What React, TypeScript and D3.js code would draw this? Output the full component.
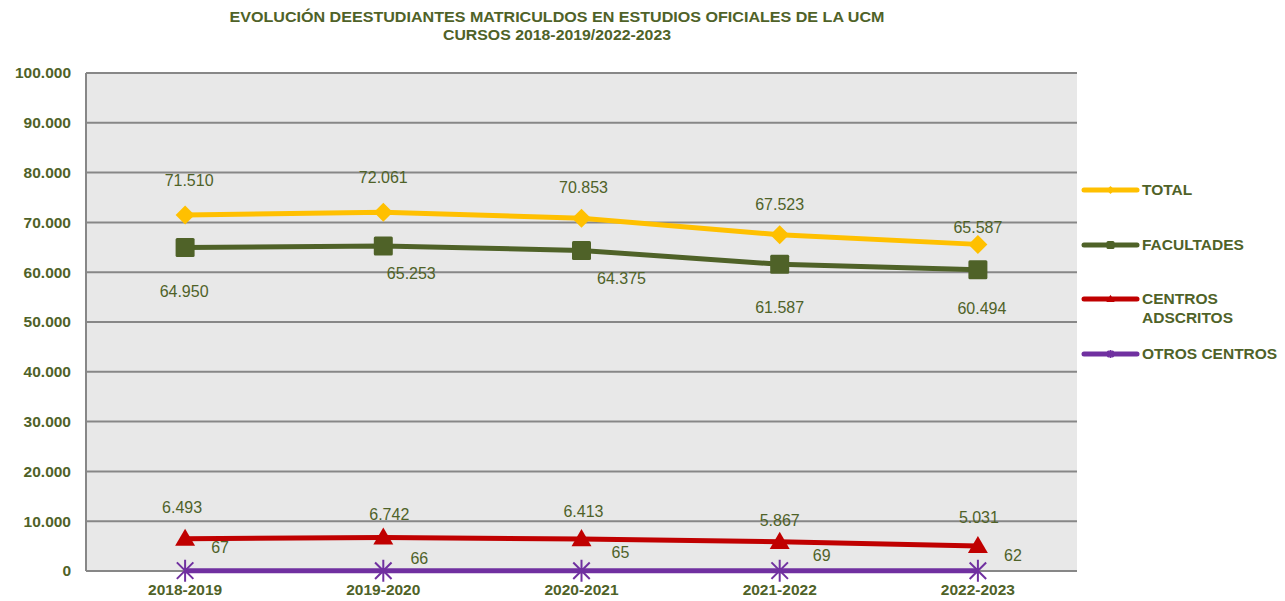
import React, { useEffect, useRef } from "react";
import * as d3 from "d3";

// cursos
const cursos = ["2018-2019", "2019-2020", "2020-2021", "2021-2022", "2022-2023"];

// valores por serie
const total = [71510, 72061, 70853, 67523, 65587];
const facultades = [64950, 65253, 64375, 61587, 60494];
const centrosAdscritos = [6493, 6742, 6413, 5867, 5031];
const otrosCentros = [67, 66, 65, 69, 62];

const yTicks = [0, 10000, 20000, 30000, 40000, 50000, 60000, 70000, 80000, 90000, 100000];

// desplazamiento de las etiquetas (como en la hoja original)
const offTotal = [[4, -34], [0, -35], [2, -31], [0, -30], [0, -17]];
const offFac = [[-1, 44], [28, 27], [40, 28], [0, 43], [4, 39]];
const offCen = [[-3, -31], [6, -23], [2, -28], [0, -21], [1, -29]];
const offOtros = [[35, -23], [36, -12], [39, -18], [42, -15], [35, -15]];

const OLIVE = "#4F6228";

const fmt = (v: number) => {
  const s = String(v);
  return s.length > 3 ? s.slice(0, -3) + "." + s.slice(-3) : s;
};

const App = () => {
  const svgRef = useRef<SVGSVGElement>(null);

  useEffect(() => {
    const svg = d3.select(svgRef.current);
    svg.selectAll("*").remove();

    const left = 86;
    const right = 1077;
    const top = 73;
    const bottom = 571;

    const x = d3.scaleBand().domain(cursos).range([left, right]);
    const y = d3.scaleLinear().domain([0, 100000]).range([bottom, top]);
    const cx = (c: string) => (x(c) as number) + x.bandwidth() / 2;

    const font = "'Liberation Sans', Arial, sans-serif";

    // fondo del área de trazado
    svg
      .append("rect")
      .attr("x", left)
      .attr("y", top)
      .attr("width", right - left)
      .attr("height", bottom - top)
      .attr("fill", "#E8E8E8");

    // líneas de la cuadrícula
    svg
      .selectAll("line.grid")
      .data(yTicks)
      .enter()
      .append("line")
      .attr("x1", left)
      .attr("x2", right)
      .attr("y1", (d) => y(d))
      .attr("y2", (d) => y(d))
      .attr("stroke", "#878787")
      .attr("stroke-width", 2);

    svg
      .append("line")
      .attr("x1", left)
      .attr("x2", left)
      .attr("y1", top)
      .attr("y2", bottom)
      .attr("stroke", "#878787")
      .attr("stroke-width", 2);

    // etiquetas eje y
    svg
      .selectAll("text.ytick")
      .data(yTicks)
      .enter()
      .append("text")
      .attr("x", 71)
      .attr("y", (d) => y(d))
      .attr("dy", "0.35em")
      .attr("text-anchor", "end")
      .attr("font-family", font)
      .attr("font-weight", "bold")
      .attr("font-size", 15.5)
      .attr("fill", OLIVE)
      .text((d) => fmt(d));

    // etiquetas eje x
    svg
      .selectAll("text.xtick")
      .data(cursos)
      .enter()
      .append("text")
      .attr("x", (d) => cx(d))
      .attr("y", 590)
      .attr("dy", "0.35em")
      .attr("text-anchor", "middle")
      .attr("font-family", font)
      .attr("font-weight", "bold")
      .attr("font-size", 15.5)
      .attr("fill", OLIVE)
      .text((d) => d);

    // título
    svg
      .append("text")
      .attr("x", 557)
      .attr("y", 17)
      .attr("dy", "0.35em")
      .attr("text-anchor", "middle")
      .attr("font-family", font)
      .attr("font-weight", "bold")
      .attr("font-size", 15)
      .attr("textLength", 655)
      .attr("lengthAdjust", "spacingAndGlyphs")
      .attr("fill", OLIVE)
      .text("EVOLUCIÓN DEESTUDIANTES MATRICULDOS EN ESTUDIOS OFICIALES DE LA UCM");
    svg
      .append("text")
      .attr("x", 557)
      .attr("y", 35)
      .attr("dy", "0.35em")
      .attr("text-anchor", "middle")
      .attr("font-family", font)
      .attr("font-weight", "bold")
      .attr("font-size", 15)
      .attr("textLength", 228)
      .attr("lengthAdjust", "spacingAndGlyphs")
      .attr("fill", OLIVE)
      .text("CURSOS 2018-2019/2022-2023");

    const series = [
      { name: "TOTAL", values: total, color: "#FFC000", marker: "diamond", off: offTotal },
      { name: "FACULTADES", values: facultades, color: OLIVE, marker: "square", off: offFac },
      { name: "CENTROS ADSCRITOS", values: centrosAdscritos, color: "#C00000", marker: "triangle", off: offCen },
      { name: "OTROS CENTROS", values: otrosCentros, color: "#7030A0", marker: "star", off: offOtros },
    ];

    const drawMarker = (g: any, kind: string, px: number, py: number, color: string, s: number) => {
      if (kind === "diamond") {
        g.append("path")
          .attr("d", `M${px},${py - s}L${px + s},${py}L${px},${py + s}L${px - s},${py}Z`)
          .attr("fill", color);
      } else if (kind === "square") {
        g.append("rect")
          .attr("x", px - s)
          .attr("y", py - s)
          .attr("width", s * 2)
          .attr("height", s * 2)
          .attr("rx", 1.5)
          .attr("fill", color);
      } else if (kind === "triangle") {
        g.append("path")
          .attr("d", `M${px},${py - s * 1.05}L${px + s * 1.05},${py + s * 0.75}L${px - s * 1.05},${py + s * 0.75}Z`)
          .attr("fill", color);
      } else {
        const d = s * 0.75;
        g.append("path")
          .attr(
            "d",
            `M${px},${py - s}L${px},${py + s}M${px - d},${py - d}L${px + d},${py + d}M${px - d},${py + d}L${px + d},${py - d}`
          )
          .attr("stroke", color)
          .attr("stroke-width", 2)
          .attr("fill", "none");
      }
    };

    const line = d3
      .line<number>()
      .x((_, i) => cx(cursos[i]))
      .y((d) => y(d));

    series.forEach((s) => {
      svg
        .append("path")
        .attr("d", line(s.values))
        .attr("fill", "none")
        .attr("stroke", s.color)
        .attr("stroke-width", 5)
        .attr("stroke-linejoin", "round");

      const g = svg.append("g");
      s.values.forEach((v, i) => {
        drawMarker(g, s.marker, cx(cursos[i]), y(v), s.color, s.marker === "star" ? 11 : 9.5);
      });

      svg
        .selectAll(null)
        .data(s.values)
        .enter()
        .append("text")
        .attr("x", (_, i) => cx(cursos[i]) + s.off[i][0])
        .attr("y", (d, i) => y(d) + s.off[i][1])
        .attr("dy", "0.35em")
        .attr("text-anchor", "middle")
        .attr("font-family", font)
        .attr("font-size", 16)
        .attr("fill", OLIVE)
        .text((d) => fmt(d));
    });

    // leyenda
    const legendY = [190, 245, 299, 354];
    series.forEach((s, i) => {
      const ly = legendY[i];
      svg
        .append("line")
        .attr("x1", 1084)
        .attr("x2", 1137)
        .attr("y1", ly)
        .attr("y2", ly)
        .attr("stroke", s.color)
        .attr("stroke-width", 5)
        .attr("stroke-linecap", "round");
      drawMarker(svg, s.marker, 1110.5, ly, s.color, 4);
      const t = svg
        .append("text")
        .attr("x", 1142)
        .attr("y", ly)
        .attr("dy", "0.35em")
        .attr("font-family", font)
        .attr("font-weight", "bold")
        .attr("font-size", 15.5)
        .attr("fill", OLIVE);
      if (s.name === "CENTROS ADSCRITOS") {
        t.text("CENTROS");
        svg
          .append("text")
          .attr("x", 1142)
          .attr("y", ly + 19)
          .attr("dy", "0.35em")
          .attr("font-family", font)
          .attr("font-weight", "bold")
          .attr("font-size", 15.5)
          .attr("fill", OLIVE)
          .text("ADSCRITOS");
      } else {
        t.text(s.name);
      }
    });
  }, []);

  return (
    <div style={{ position: "absolute", left: 0, top: 0, width: 1285, height: 601, overflow: "hidden" }}>
      <svg ref={svgRef} width={1285} height={601} style={{ display: "block" }} />
    </div>
  );
};

export default App;
